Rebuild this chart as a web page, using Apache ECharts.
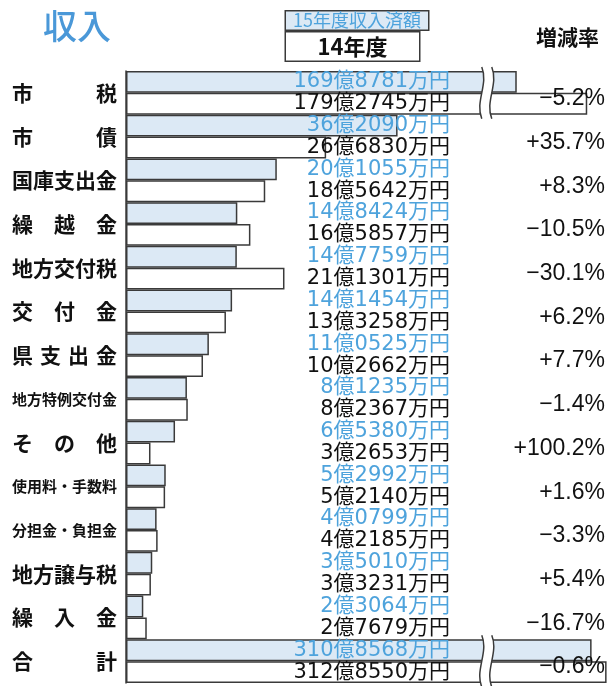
<!DOCTYPE html>
<html><head><meta charset="utf-8">
<script src="https://cdn.jsdelivr.net/npm/echarts@6/dist/echarts.min.js"></script>
<style>html,body{margin:0;padding:0;background:#fff}#c{width:613px;height:686px}</style>
</head><body><div id="c"></div>
<script>
// ---- data (values in 万円) ----
const categories = ['市税','市債','国庫支出金','繰越金','地方交付税','交付金','県支出金','地方特例交付金','その他','使用料・手数料','分担金・負担金','地方譲与税','繰入金','合計'];
const categoryLabels = ['市　　　税','市　　　債','国庫支出金','繰　越　金','地方交付税','交　付　金','県\u2004支\u2004出\u2004金','地方特例交付金','そ　の　他','使用料・手数料','分担金・負担金','地方譲与税','繰　入　金','合　　　計'];
const fy15 = [1698781, 362090, 201055, 148424, 147759, 141454, 110525, 81235, 65380, 52992, 40799, 35010, 23064, 3108568];
const fy14 = [1792745, 266830, 185642, 165857, 211301, 133258, 102662, 82367, 32653, 52140, 42185, 33231, 27679, 3128550];
const rates = [-5.2, 35.7, 8.3, -10.5, -30.1, 6.2, 7.7, -1.4, 100.2, 1.6, -3.3, 5.4, -16.7, -0.6];
const seriesNames = ['15年度収入済額', '14年度'];
const titleText = '収入';
const rateTitle = '増減率';
// axis breaks (万円)
const axisBreaks = [
  {start: 481000, end: 1658800},
  {start: 1795000, end: 3105000}
];

function fmtYen(v){
  const oku = Math.floor(v/10000);
  const man = String(v % 10000).padStart(4,'0');
  return oku + '億' + man + '万円';
}
function fmtRate(r){
  return (r < 0 ? '\u2212' : '+') + Math.abs(r).toFixed(1) + '%';
}
function isLong(s){ return s.replace(/[\s\u2004\u3000]/g,'').length > 5; }

const BLUE_FILL = '#dce9f5';
const BORDER = '#3a3a3a';
const BLUE_TEXT = '#4ea3dc';

const breakStart = axisBreaks[0].start;
const breakRows = [];
fy14.forEach((v,i)=>{ if (Math.max(v, fy15[i]) > breakStart) breakRows.push([breakStart, i]); });

function sCurve(x, top, bot, dx){
  const h = bot - top;
  return {x1: x+dx, y1: top, cpx1: x+dx+7, cpy1: top+h/3, cpx2: x+dx-7, cpy2: top+2*h/3, x2: x+dx, y2: bot};
}

const chart = echarts.init(document.getElementById('c'), null, {renderer:'canvas'});
chart.setOption({
  animation: false,
  title: [
    {text: titleText, left: 38, top: 4, textStyle: {fontSize: 34, color: '#4a98d8', fontWeight: 500, fontFamily: 'Noto Sans CJK JP'}},
    {text: rateTitle, left: 531, top: 22, textStyle: {fontSize: 21, color: '#111', fontWeight: 'bold', fontFamily: 'Noto Sans CJK JP'}}
  ],
  legend: {
    left: 275, top: 5, orient: 'vertical', itemGap: 0, itemWidth: 0, itemHeight: 0,
    selectedMode: false, data: seriesNames,
    formatter: name => name === seriesNames[0] ? '{a|' + name + '}' : '{b|' + name + '}',
    textStyle: {
      rich: {
        a: {width: 142, height: 18, lineHeight: 18, fontSize: 18, color: BLUE_TEXT, align: 'center',
            backgroundColor: BLUE_FILL, borderColor: BORDER, borderWidth: 1.5, fontFamily: 'Noto Sans CJK JP'},
        b: {width: 133, height: 28, lineHeight: 28, fontSize: 22, color: '#111', align: 'center', fontWeight: 'bold',
            backgroundColor: '#fff', borderColor: BORDER, borderWidth: 1.5, fontFamily: 'Noto Sans CJK JP'}
      }
    }
  },
  grid: {left: 126, right: 0, top: 71, bottom: 3, containLabel: false},
  xAxis: {
    type: 'value', min: 0, max: 3137100, show: false,
    breaks: axisBreaks.map(b => ({start: b.start, end: b.end, gap: 0})),
    breakArea: {show: false},
    splitLine: {show: false}
  },
  yAxis: [
    {
      type: 'category', data: categories, inverse: true, z: 10,
      axisLine: {lineStyle: {color: BORDER, width: 1.5}}, axisTick: {show: false},
      axisLabel: {
        interval: 0, margin: 9, color: '#111', fontSize: 21, fontWeight: 'bold', fontFamily: 'Noto Sans CJK JP',
        formatter: (v, i) => isLong(categoryLabels[i]) && categoryLabels[i].length > 6 ? '{s|' + categoryLabels[i] + '}' : categoryLabels[i],
        rich: {s: {fontSize: 15, color: '#111', fontWeight: 'bold', fontFamily: 'Noto Sans CJK JP'}}
      }
    },
    {
      type: 'category', data: categories, inverse: true, position: 'left', offset: -324, z: 10,
      axisLine: {show: false}, axisTick: {show: false},
      axisLabel: {
        interval: 0, margin: 0,
        formatter: (v, i) => '{b|' + fmtYen(fy15[i]) + '}\n{k|' + fmtYen(fy14[i]) + '}',
        rich: {
          b: {color: BLUE_TEXT, fontSize: 21, lineHeight: 22, fontFamily: '"DejaVu Sans","Noto Sans CJK JP"', align: 'right'},
          k: {color: '#111', fontSize: 21, lineHeight: 22, fontFamily: '"DejaVu Sans","Noto Sans CJK JP"', align: 'right'}
        }
      }
    },
    {
      type: 'category', data: categories, inverse: true, position: 'left', offset: -479, z: 10,
      axisLine: {show: false}, axisTick: {show: false},
      axisLabel: {
        interval: 0, margin: 0,
        formatter: (v, i) => '{r|' + fmtRate(rates[i]) + '}',
        rich: {r: {color: '#111', fontSize: 23, fontFamily: '"Liberation Sans","Noto Sans CJK JP"', padding: [12,0,0,0]}}
      }
    }
  ],
  series: [
    {
      name: seriesNames[0], type: 'bar', data: fy15, barGap: '0%', barCategoryGap: '0%', z: 2,
      itemStyle: {color: BLUE_FILL, borderColor: BORDER, borderWidth: 1.5}
    },
    {
      name: seriesNames[1], type: 'bar', data: fy14, barGap: '0%', barCategoryGap: '0%', z: 2,
      itemStyle: {color: '#ffffff', borderColor: BORDER, borderWidth: 1.5}
    },
    {
      type: 'custom', data: breakRows, z: 3, silent: true, clip: false,
      renderItem: (params, api) => {
        const p = api.coord([api.value(0), api.value(1)]);
        const band = api.size([0, 1])[1];
        const top = p[1] - band/2 - 4, bot = p[1] + band/2 + 4, x = p[0];
        const L = sCurve(x, top, bot, -5), R = sCurve(x, top, bot, 5);
        const path = `M${L.x1} ${L.y1} C${L.cpx1} ${L.cpy1} ${L.cpx2} ${L.cpy2} ${L.x2} ${L.y2} L${R.x2} ${R.y2} C${R.cpx2} ${R.cpy2} ${R.cpx1} ${R.cpy1} ${R.x1} ${R.y1} Z`;
        return {
          type: 'group',
          children: [
            {type: 'path', shape: {pathData: path}, style: {fill: '#fff', stroke: null}},
            {type: 'bezierCurve', shape: L, style: {stroke: BORDER, lineWidth: 1.5, fill: null}},
            {type: 'bezierCurve', shape: R, style: {stroke: BORDER, lineWidth: 1.5, fill: null}}
          ]
        };
      }
    }
  ]
});
</script>
</body></html>
